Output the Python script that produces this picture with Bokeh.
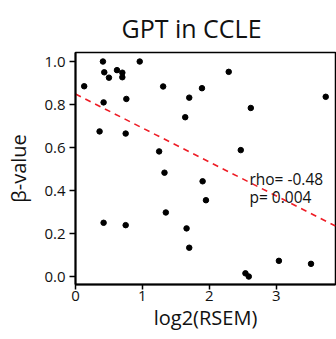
from bokeh.plotting import figure
from bokeh.models import Range1d, Label, FixedTicker, NumeralTickFormatter, Title
from bokeh.embed import file_html
from bokeh.resources import INLINE

# data
x_vals = [0.13, 0.41, 0.43, 0.50, 0.62, 0.70, 0.70, 0.96, 1.31, 0.42, 0.76,
          0.36, 0.75, 1.25, 1.33, 2.29, 1.89, 1.70, 3.74, 2.62, 1.64, 2.47,
          1.90, 0.42, 0.75, 1.35, 1.95, 1.66, 1.70, 2.54, 2.59, 3.04, 3.52]
y_vals = [0.885, 1.00, 0.95, 0.925, 0.96, 0.948, 0.927, 1.00, 0.884, 0.81, 0.826,
          0.675, 0.665, 0.582, 0.483, 0.952, 0.876, 0.832, 0.836, 0.784, 0.741, 0.588,
          0.443, 0.25, 0.239, 0.298, 0.355, 0.224, 0.134, 0.015, 0.0, 0.073, 0.059]
fit_intercept = 0.849
fit_slope = -0.158
x_ticks = [0, 1, 2, 3]
y_ticks = [0.0, 0.2, 0.4, 0.6, 0.8, 1.0]
title_text = "GPT in CCLE"
x_label = "log2(RSEM)"
y_label = "β-value"
stat_lines = ["rho= -0.48", "p= 0.004"]

FONT = "Open Sans"
x_end = 3.886
y_start, y_end = -0.037, 1.042

p = figure(width=336, height=339, output_backend="svg", toolbar_location=None,
           x_range=Range1d(0, x_end), y_range=Range1d(y_start, y_end),
           min_border_left=75, min_border_right=1, min_border_top=51, min_border_bottom=55)
p.title = Title(text=title_text, text_font=FONT, text_font_size="25px",
                text_font_style="normal", align="left", offset=46, standoff=16,
                text_color="#111111")
p.xgrid.visible = False
p.ygrid.visible = False
p.outline_line_color = "black"
p.outline_line_width = 1.5
p.background_fill_color = "white"
p.border_fill_color = "white"

for ax in (p.xaxis[0], p.yaxis[0]):
    ax.axis_line_width = 2
    ax.axis_line_color = "black"
    ax.major_tick_line_width = 1.5
    ax.major_tick_in = 0
    ax.minor_tick_out = 0
    ax.minor_tick_in = 0
    ax.major_label_text_font = FONT
    ax.major_label_text_font_size = "15px"
    ax.major_label_text_color = "#111111"
    ax.axis_label_text_font = FONT
    ax.axis_label_text_font_size = "20px"
    ax.axis_label_text_font_style = "normal"
    ax.axis_label_text_color = "#111111"

p.yaxis.major_tick_out = 6
p.xaxis.major_tick_out = 5
p.xaxis.ticker = FixedTicker(ticks=x_ticks)
p.yaxis.ticker = FixedTicker(ticks=y_ticks)
p.yaxis.formatter = NumeralTickFormatter(format="0.0")
p.xaxis.axis_label = x_label
p.yaxis.axis_label = y_label
p.xaxis.major_label_standoff = 1
p.yaxis.major_label_standoff = 4
p.xaxis.axis_label_standoff = 0
p.yaxis.axis_label_standoff = 9

p.scatter(x_vals, y_vals, size=5.5, color="black", marker="circle")

fx = [0, x_end]
fy = [fit_intercept + fit_slope * v for v in fx]
p.line(fx, fy, line_color="#ee1c25", line_width=1.6, line_dash="6 5")

p.add_layout(Label(x=2.60, y=0.455, text=stat_lines[0], text_font=FONT,
                   text_font_size="15.5px", text_color="#111111", text_baseline="alphabetic"))
p.add_layout(Label(x=2.60, y=0.372, text=stat_lines[1], text_font=FONT,
                   text_font_size="15.5px", text_color="#111111", text_baseline="alphabetic"))

open("out.html", "w").write(file_html(p, INLINE))
